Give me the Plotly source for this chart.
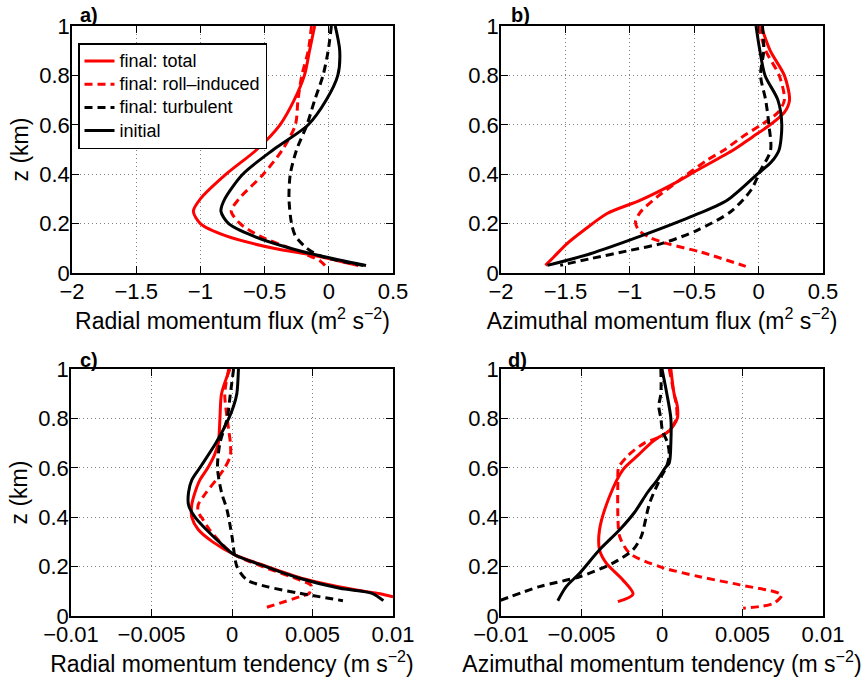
import plotly.graph_objects as go

# ---------------- data ----------------
# Panel a: radial momentum flux (m2 s-2)
a_total_z = [1.0, 0.9, 0.8, 0.7, 0.6, 0.5, 0.4, 0.3, 0.25, 0.2, 0.15, 0.1, 0.07, 0.03]
a_total_x = [-0.11, -0.15, -0.19, -0.27, -0.38, -0.56, -0.80, -1.0, -1.055, -1.0, -0.8, -0.43, -0.1, 0.23]
a_roll_z = [1.0, 0.9, 0.8, 0.7, 0.6, 0.5, 0.4, 0.3, 0.25, 0.2, 0.15, 0.1, 0.05, 0.03]
a_roll_x = [-0.135, -0.16, -0.21, -0.24, -0.26, -0.36, -0.51, -0.70, -0.76, -0.69, -0.54, -0.30, -0.07, -0.03]
a_turb_z = [1.0, 0.9, 0.8, 0.7, 0.6, 0.5, 0.4, 0.3, 0.2, 0.15, 0.1, 0.07, 0.03]
a_turb_x = [0.02, -0.005, -0.045, -0.11, -0.17, -0.25, -0.30, -0.31, -0.29, -0.26, -0.17, -0.07, 0.27]
a_init_z = [1.0, 0.9, 0.8, 0.7, 0.6, 0.5, 0.4, 0.3, 0.25, 0.2, 0.15, 0.1, 0.07, 0.03]
a_init_x = [0.05, 0.085, 0.07, -0.02, -0.16, -0.43, -0.67, -0.81, -0.84, -0.78, -0.59, -0.30, -0.07, 0.29]

# Panel b: azimuthal momentum flux (m2 s-2)
b_total_z = [1.0, 0.9, 0.8, 0.7, 0.65, 0.6, 0.55, 0.5, 0.416, 0.362, 0.295, 0.241, 0.173, 0.119, 0.065, 0.031]
b_total_x = [0.02, 0.09, 0.2, 0.24, 0.2, 0.09, -0.05, -0.19, -0.477, -0.658, -0.917, -1.176, -1.357, -1.487, -1.59, -1.655]
b_roll_z = [1.0, 0.9, 0.8, 0.7, 0.65, 0.6, 0.55, 0.497, 0.457, 0.369, 0.308, 0.247, 0.207, 0.173, 0.143, 0.119, 0.085, 0.027]
b_roll_x = [0.0, 0.055, 0.16, 0.2, 0.15, 0.02, -0.13, -0.27, -0.4, -0.632, -0.788, -0.917, -0.956, -0.93, -0.84, -0.71, -0.45, -0.1]
b_turb_z = [1.0, 0.9, 0.8, 0.7, 0.6, 0.497, 0.416, 0.335, 0.247, 0.173, 0.122, 0.092, 0.058, 0.031]
b_turb_x = [0.03, 0.04, 0.015, 0.055, 0.08, 0.093, 0.016, -0.06, -0.22, -0.477, -0.736, -0.995, -1.306, -1.54]
b_init_z = [1.0, 0.9, 0.8, 0.7, 0.6, 0.497, 0.45, 0.4, 0.295, 0.227, 0.149, 0.078, 0.031]
b_init_x = [-0.02, 0.01, 0.05, 0.15, 0.18, 0.158, 0.1, -0.01, -0.244, -0.53, -0.917, -1.306, -1.64]

# Panel c: radial momentum tendency (m s-2)
c_total_z = [1.0, 0.9, 0.8, 0.7, 0.65, 0.6, 0.55, 0.5, 0.45, 0.4, 0.35, 0.3, 0.25, 0.2, 0.15, 0.11, 0.09, 0.078]
c_total_x = [-0.00013, -0.00065, -0.00075, -0.00085, -0.0011, -0.0015, -0.002, -0.0023, -0.0025, -0.0025, -0.0021,
             -0.0012, 0.0001, 0.0022, 0.0045, 0.0073, 0.0092, 0.0100]
c_roll_z = [1.0, 0.9, 0.8, 0.75, 0.7, 0.65, 0.6, 0.55, 0.5, 0.45, 0.42, 0.4, 0.35, 0.3, 0.25, 0.2, 0.146, 0.124,
            0.092, 0.078, 0.03]
c_roll_x = [-0.0002, -0.00045, -0.0003, -0.0002, -0.0001, -0.0001, -0.00045, -0.001, -0.0016, -0.0021, -0.0021,
            -0.0019, -0.0014, -0.00075, 0.0001, 0.0019, 0.0042, 0.0049, 0.0048, 0.0042, 0.0019]
c_turb_z = [1.0, 0.9, 0.8, 0.7, 0.6, 0.5, 0.43, 0.322, 0.2, 0.146, 0.119, 0.092, 0.062]
c_turb_x = [0.0001, -0.0001, -0.0003, -0.00075, -0.0009, -0.00065, -0.00031, 0.0, 0.00031, 0.00093, 0.00216,
            0.00422, 0.00689]
c_init_z = [1.0, 0.9, 0.85, 0.8, 0.7, 0.6, 0.55, 0.5, 0.45, 0.4, 0.35, 0.3, 0.25, 0.2, 0.153, 0.112, 0.092, 0.062]
c_init_x = [0.0004, 0.0003, 0.0001, -0.0002, -0.001, -0.002, -0.0025, -0.0027, -0.0027, -0.0023, -0.0016, -0.0008,
            0.0001, 0.0021, 0.0042, 0.0067, 0.0087, 0.0094]

# Panel d: azimuthal momentum tendency (m s-2)
d_total_z = [1.0, 0.9, 0.85, 0.8, 0.75, 0.72, 0.7, 0.65, 0.592, 0.484, 0.349, 0.268, 0.214, 0.146, 0.089, 0.058]
d_total_x = [0.00055, 0.00075, 0.00095, 0.00095, 0.00045, -0.0003, -0.0007, -0.0015, -0.00243, -0.00326, -0.00388,
             -0.00388, -0.00346, -0.00243, -0.0018, -0.00274]
d_roll_z = [1.0, 0.9, 0.85, 0.8, 0.75, 0.72, 0.7, 0.65, 0.6, 0.55, 0.403, 0.322, 0.254, 0.2, 0.159, 0.126, 0.085,
            0.051, 0.031]
d_roll_x = [0.00045, 0.00075, 0.0009, 0.0009, 0.00045, -0.0003, -0.0011, -0.0021, -0.0027, -0.00274, -0.00274,
            -0.00263, -0.00201, -0.00015, 0.00234, 0.00483, 0.00743, 0.00691, 0.00504]
d_turb_z = [1.0, 0.9, 0.85, 0.8, 0.75, 0.7, 0.65, 0.6, 0.565, 0.457, 0.322, 0.268, 0.214, 0.159, 0.119, 0.062]
d_turb_x = [-0.00007, -0.00007, -0.0002, -0.00007, 0.00003, 0.00035, 0.00045, 0.00025, -0.00004, -0.00077, -0.00129,
            -0.0018, -0.00305, -0.00512, -0.00761, -0.0101]
d_init_z = [1.0, 0.9, 0.8, 0.7, 0.62, 0.6, 0.55, 0.5, 0.42, 0.349, 0.268, 0.173, 0.119, 0.062]
d_init_x = [0.0, 0.0003, 0.00055, 0.00055, 0.00045, 0.0002, -0.0003, -0.0009, -0.0017, -0.00263, -0.00388, -0.00512,
            -0.00595, -0.00647]

series_names = ["final: total", "final: roll\u2013induced", "final: turbulent", "initial"]

flux_ticks = [-2, -1.5, -1, -0.5, 0, 0.5]
flux_ticktext = ["\u22122", "\u22121.5", "\u22121", "\u22120.5", "0", "0.5"]
tend_ticks = [-0.01, -0.005, 0, 0.005, 0.01]
tend_ticktext = ["\u22120.01", "\u22120.005", "0", "0.005", "0.01"]
z_ticks = [0, 0.2, 0.4, 0.6, 0.8, 1]
z_ticktext = ["0", "0.2", "0.4", "0.6", "0.8", "1"]

xtitles = ["Radial momentum flux (m<sup>2</sup> s<sup>\u22122</sup>)",
           "Azimuthal momentum flux (m<sup>2</sup> s<sup>\u22122</sup>)",
           "Radial momentum tendency (m s<sup>\u22122</sup>)",
           "Azimuthal momentum tendency (m s<sup>\u22122</sup>)"]
panel_labels = ["a)", "b)", "c)", "d)"]

# ---------------- figure ----------------
FONT = "Liberation Sans, Arial, Helvetica, sans-serif"
RED = "rgb(255,0,0)"
BLK = "rgb(0,0,0)"
LW = 3
DASH = "8px,5px"

styles = [
    dict(color=RED, width=LW, dash="solid"),
    dict(color=RED, width=LW, dash=DASH),
    dict(color=BLK, width=LW, dash=DASH),
    dict(color=BLK, width=LW, dash="solid"),
]

panels = [
    [(a_total_x, a_total_z), (a_roll_x, a_roll_z), (a_turb_x, a_turb_z), (a_init_x, a_init_z)],
    [(b_total_x, b_total_z), (b_roll_x, b_roll_z), (b_turb_x, b_turb_z), (b_init_x, b_init_z)],
    [(c_total_x, c_total_z), (c_roll_x, c_roll_z), (c_turb_x, c_turb_z), (c_init_x, c_init_z)],
    [(d_total_x, d_total_z), (d_roll_x, d_roll_z), (d_turb_x, d_turb_z), (d_init_x, d_init_z)],
]

fig = go.Figure()
for p, data in enumerate(panels):
    sfx = "" if p == 0 else str(p + 1)
    for k in [0, 1, 2, 3]:
        xs, zs = data[k]
        fig.add_trace(go.Scatter(
            x=xs, y=zs, mode="lines",
            name='<span style="font-size:18px">' + series_names[k] + "</span>",
            line=dict(shape="spline", smoothing=0.8, **styles[k]),
            showlegend=(p == 0), legendrank=k + 1,
            xaxis="x" + sfx, yaxis="y" + sfx, hoverinfo="skip"))

W, H = 862, 679
xdom = [[72 / W, 393 / W], [501 / W, 823 / W], [71 / W, 393 / W], [501 / W, 823 / W]]
ydom = [[1 - 273 / H, 1 - 26 / H], [1 - 273 / H, 1 - 26 / H], [1 - 616 / H, 1 - 369 / H], [1 - 616 / H, 1 - 369 / H]]

axis_common = dict(
    automargin=False,
    showline=True, linecolor="black", linewidth=1.5, mirror="ticks",
    ticks="inside", ticklen=7, tickwidth=1, tickcolor="black",
    showgrid=True, gridcolor="#808080", gridwidth=1, griddash="1px,3px",
    zeroline=False, tickfont=dict(family=FONT, size=22, color="black"),
)

layout = dict(
    width=W, height=H, margin=dict(l=0, r=0, t=0, b=0, autoexpand=False),
    paper_bgcolor="white", plot_bgcolor="white",
    font=dict(family=FONT, color="black"),
    showlegend=True,
    legend=dict(x=78 / W, y=1 - 43 / H, xanchor="left", yanchor="top",
                bgcolor="white", bordercolor="black", borderwidth=1.5,
                font=dict(family=FONT, size=15.5, color="black"),
                tracegroupgap=0, itemwidth=30),
)

for p in range(4):
    sfx = "" if p == 0 else str(p + 1)
    ticks = flux_ticks if p < 2 else tend_ticks
    ttext = flux_ticktext if p < 2 else tend_ticktext
    rng = [-2, 0.5] if p < 2 else [-0.01, 0.01]
    layout["xaxis" + sfx] = dict(
        axis_common, domain=xdom[p], anchor="y" + sfx, range=rng,
        tickvals=ticks, ticktext=ttext, ticklabelstandoff=-2,
        title=dict(text=xtitles[p], font=dict(family=FONT, size=23, color="black"), standoff=2))
    ya = dict(
        axis_common, domain=ydom[p], anchor="x" + sfx, range=[0, 1],
        tickvals=z_ticks, ticktext=z_ticktext, ticklabelstandoff=-4)
    if p in (0, 2):
        ya["title"] = dict(text="z (km)", font=dict(family=FONT, size=23, color="black"), standoff=4)
    layout["yaxis" + sfx] = ya

fig.update_layout(**layout)

label_pos = [(78, 15), (509, 15), (78, 360), (506, 360)]
for (px, py), lab in zip(label_pos, panel_labels):
    fig.add_annotation(x=px / W, y=1 - py / H, xref="paper", yref="paper",
                       text="<b>" + lab + "</b>", showarrow=False,
                       xanchor="left", yanchor="middle",
                       font=dict(family=FONT, size=20, color="black"))

fig.write_html("out.html", config={"displayModeBar": False},
               post_script="document.body.style.margin='0px';")
